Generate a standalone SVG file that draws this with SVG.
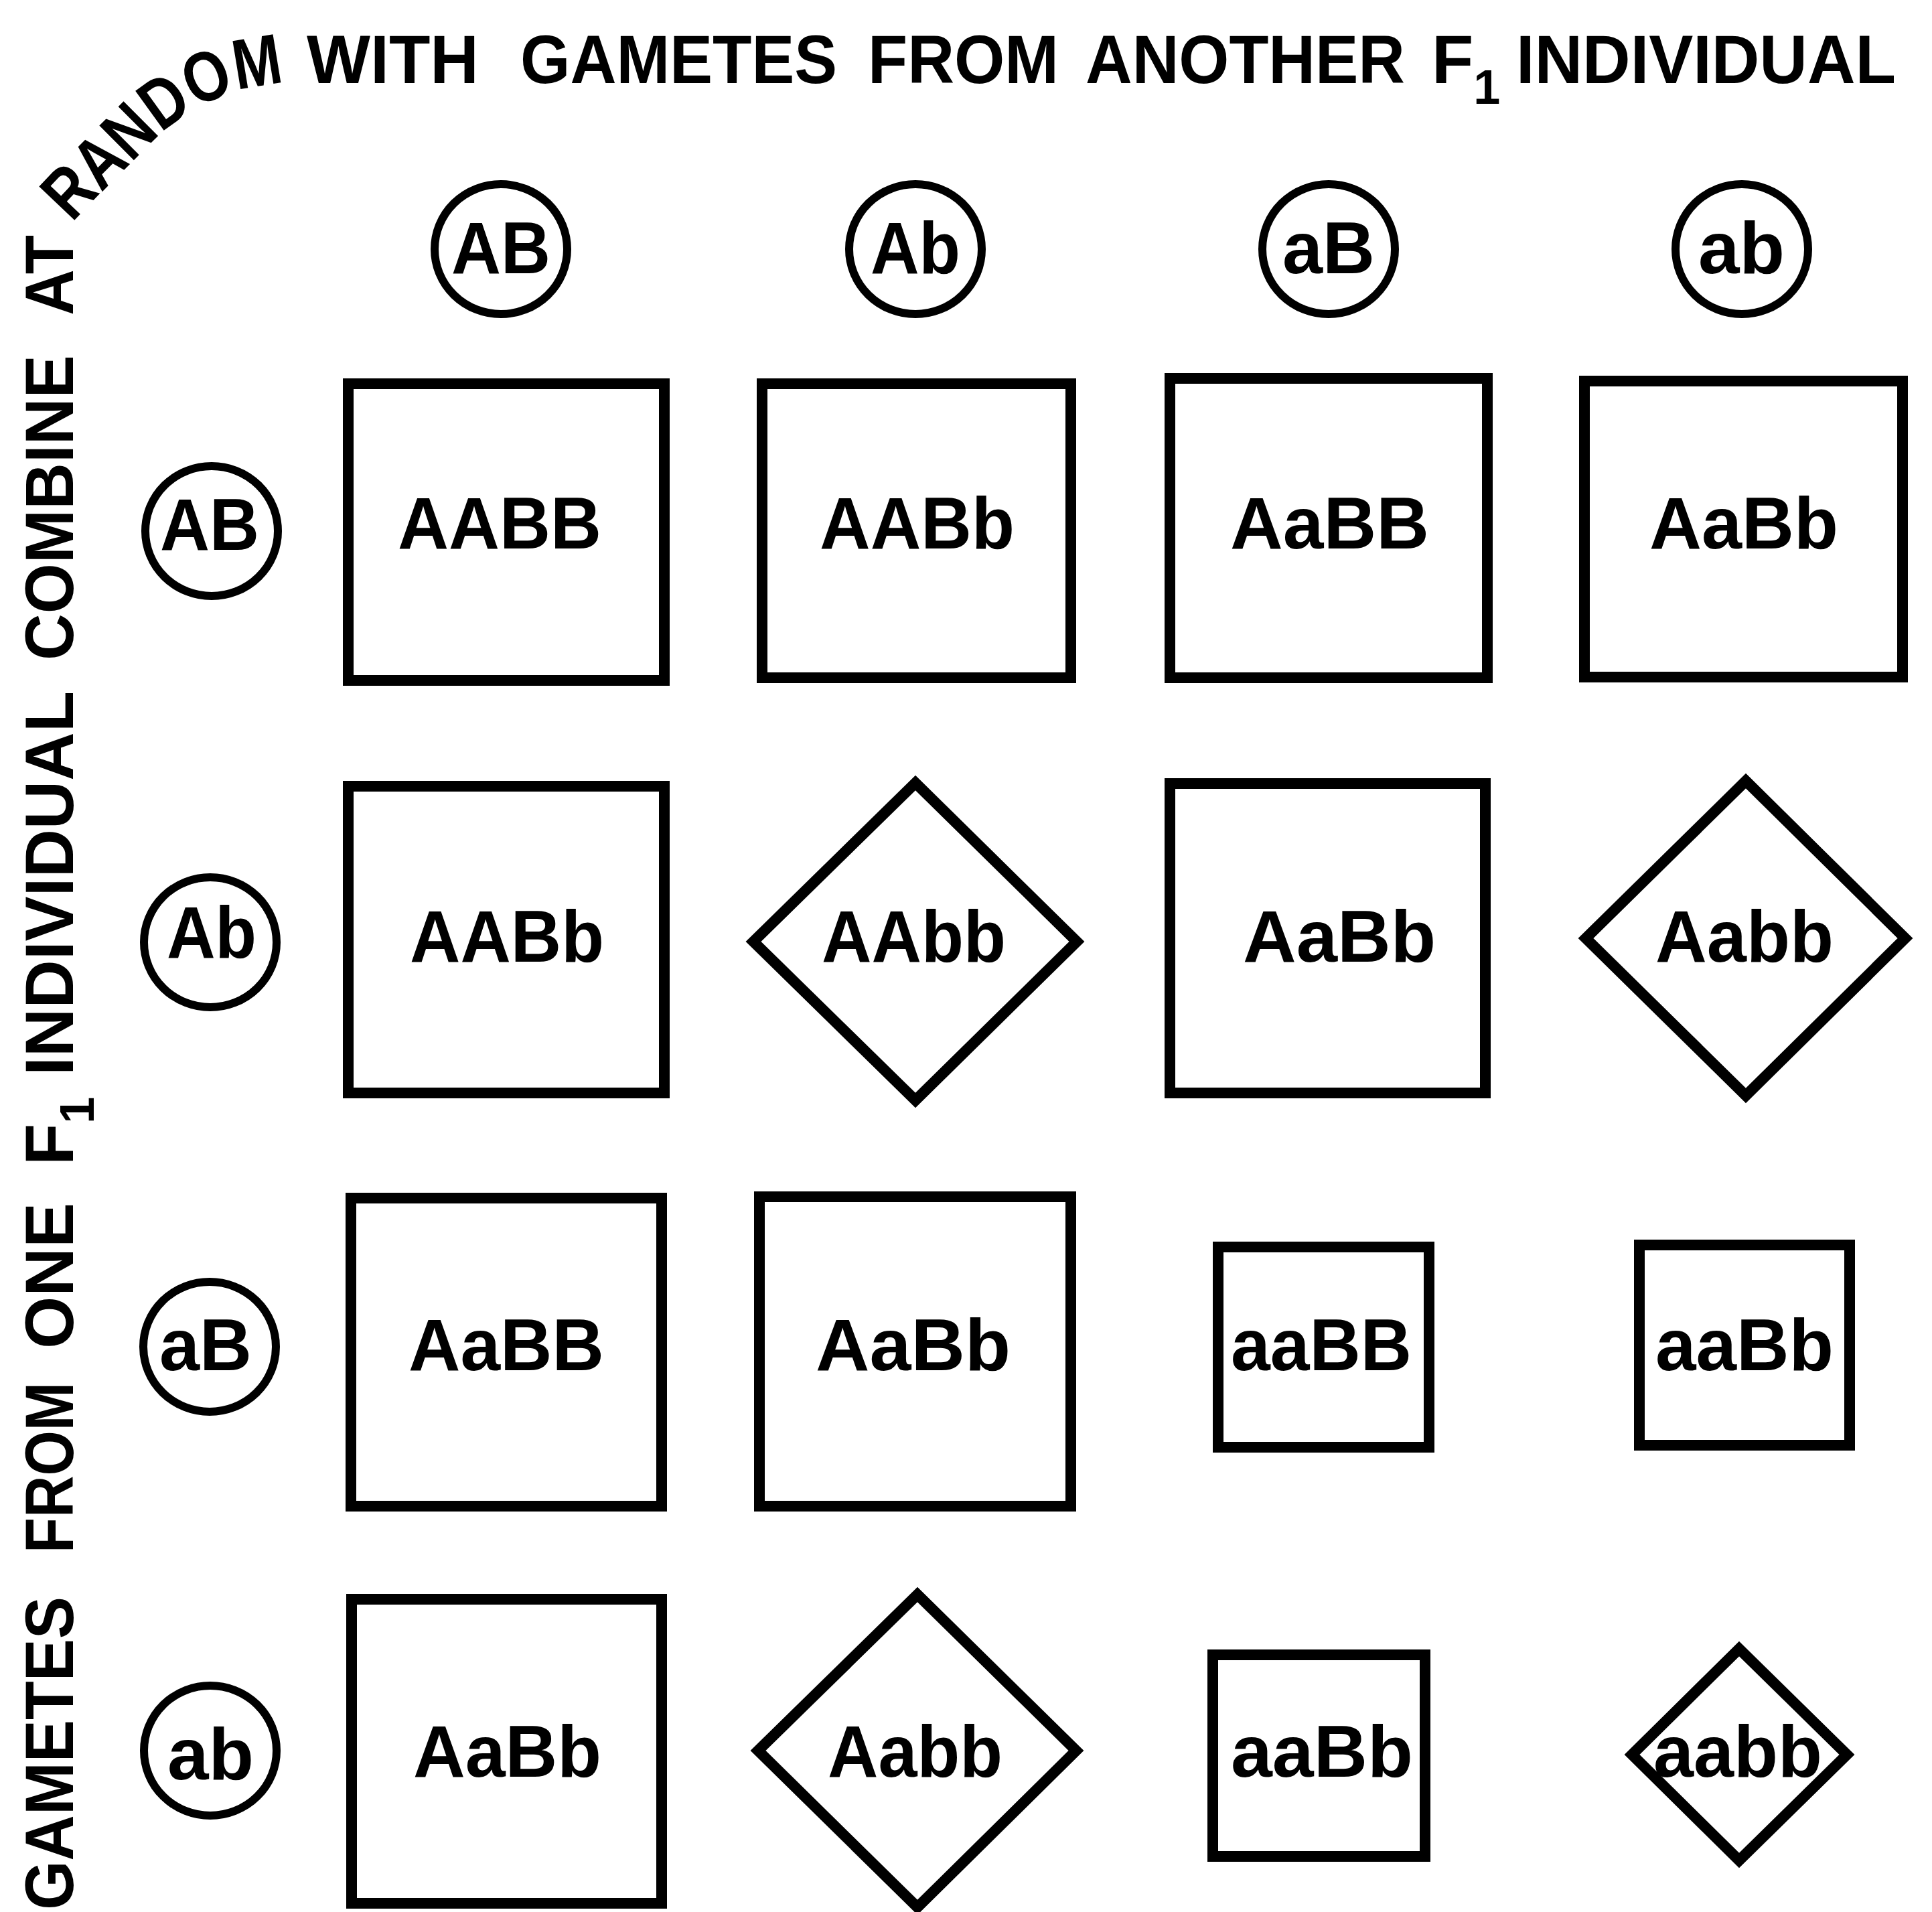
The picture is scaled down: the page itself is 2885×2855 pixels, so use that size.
<svg xmlns="http://www.w3.org/2000/svg" width="2885" height="2855" viewBox="0 0 2885 2855">
<style>
.bg{fill:#ffffff}
.box{fill:none;stroke:#000;stroke-width:16;stroke-linejoin:miter}
.dia{fill:none;stroke:#000;stroke-width:16;stroke-linejoin:miter}
.gam{fill:none;stroke:#000;stroke-width:12}
.lbl{font-family:"Liberation Sans",Arial,sans-serif;font-weight:bold;font-size:110px;fill:#000}
.ttl{font-family:"Liberation Sans",Arial,sans-serif;font-weight:bold;font-size:102px;fill:#000}
.arc{font-family:"Liberation Sans",Arial,sans-serif;font-weight:bold;font-size:106px;fill:#000}
.sub{font-size:72px}
</style>
<defs>
<path id="arcPath" d="M 109 352 Q 109 330 131 308 L 222 217 Q 315 124 440 124"/>
</defs>
<rect class="bg" x="0" y="0" width="2885" height="2855"/>

<g id="title">
  <text class="ttl" transform="translate(109,2852) rotate(-90)" textLength="468" lengthAdjust="spacingAndGlyphs">GAMETES</text>
  <text class="ttl" transform="translate(109,2319) rotate(-90)" textLength="255" lengthAdjust="spacingAndGlyphs">FROM</text>
  <text class="ttl" transform="translate(109,2014) rotate(-90)" textLength="218" lengthAdjust="spacingAndGlyphs">ONE</text>
  <text class="ttl" transform="translate(109,1740) rotate(-90)">F<tspan class="sub" dy="31">1</tspan></text>
  <text class="ttl" transform="translate(109,1606) rotate(-90)" textLength="574" lengthAdjust="spacingAndGlyphs">INDIVIDUAL</text>
  <text class="ttl" transform="translate(109,986) rotate(-90)" textLength="456" lengthAdjust="spacingAndGlyphs">COMBINE</text>
  <text class="ttl" transform="translate(109,471) rotate(-90)" textLength="120" lengthAdjust="spacingAndGlyphs">AT</text>
  <text class="arc" textLength="392" lengthAdjust="spacingAndGlyphs"><textPath href="#arcPath" startOffset="16">RANDOM</textPath></text>
  <text class="ttl" x="458" y="124" textLength="257" lengthAdjust="spacingAndGlyphs">WITH</text>
  <text class="ttl" x="777" y="124" textLength="473" lengthAdjust="spacingAndGlyphs">GAMETES</text>
  <text class="ttl" x="1296" y="124" textLength="285" lengthAdjust="spacingAndGlyphs">FROM</text>
  <text class="ttl" x="1621" y="124" textLength="477" lengthAdjust="spacingAndGlyphs">ANOTHER</text>
  <text class="ttl" x="2138" y="124">F<tspan class="sub" dy="31">1</tspan></text>
  <text class="ttl" x="2264" y="124" textLength="567" lengthAdjust="spacingAndGlyphs">INDIVIDUAL</text>
</g>

<g id="connectors"></g>

<g id="col-AB"><ellipse class="gam" cx="748" cy="372" rx="99" ry="97"/><text class="lbl" x="674" y="408" textLength="148" lengthAdjust="spacingAndGlyphs">AB</text></g>
<g id="col-Ab"><ellipse class="gam" cx="1367" cy="372" rx="99" ry="97"/><text class="lbl" x="1300" y="408" textLength="134" lengthAdjust="spacingAndGlyphs">Ab</text></g>
<g id="col-aB"><ellipse class="gam" cx="1984" cy="372" rx="99" ry="97"/><text class="lbl" x="1915" y="408" textLength="138" lengthAdjust="spacingAndGlyphs">aB</text></g>
<g id="col-ab"><ellipse class="gam" cx="2601" cy="372" rx="99" ry="97"/><text class="lbl" x="2536" y="408" textLength="129" lengthAdjust="spacingAndGlyphs">ab</text></g>

<g id="row-AB"><ellipse class="gam" cx="316" cy="793" rx="99" ry="97"/><text class="lbl" x="239" y="821" textLength="148" lengthAdjust="spacingAndGlyphs">AB</text></g>
<g id="row-Ab"><ellipse class="gam" cx="314" cy="1407" rx="99" ry="97"/><text class="lbl" x="249" y="1430" textLength="134" lengthAdjust="spacingAndGlyphs">Ab</text></g>
<g id="row-aB"><ellipse class="gam" cx="313" cy="2011" rx="99" ry="97"/><text class="lbl" x="238" y="2046" textLength="138" lengthAdjust="spacingAndGlyphs">aB</text></g>
<g id="row-ab"><ellipse class="gam" cx="314" cy="2614" rx="99" ry="97"/><text class="lbl" x="250" y="2657" textLength="129" lengthAdjust="spacingAndGlyphs">ab</text></g>

<g id="cell-r1c1"><rect class="box" x="520" y="573" width="472" height="443"/><text class="lbl" x="594" y="819" textLength="304" lengthAdjust="spacingAndGlyphs">AABB</text></g>
<g id="cell-r1c2"><rect class="box" x="1138" y="573" width="461" height="439"/><text class="lbl" x="1224" y="819" textLength="291" lengthAdjust="spacingAndGlyphs">AABb</text></g>
<g id="cell-r1c3"><rect class="box" x="1747" y="565" width="474" height="447"/><text class="lbl" x="1837" y="819" textLength="297" lengthAdjust="spacingAndGlyphs">AaBB</text></g>
<g id="cell-r1c4"><rect class="box" x="2366" y="569" width="475" height="442"/><text class="lbl" x="2463" y="819" textLength="282" lengthAdjust="spacingAndGlyphs">AaBb</text></g>

<g id="cell-r2c1"><rect class="box" x="520" y="1174" width="472" height="458"/><text class="lbl" x="612" y="1436" textLength="290" lengthAdjust="spacingAndGlyphs">AABb</text></g>
<g id="cell-r2c2"><polygon class="dia" points="1367,1169 1608,1406 1367,1643 1125,1406"/><text class="lbl" x="1227" y="1436" textLength="275" lengthAdjust="spacingAndGlyphs">AAbb</text></g>
<g id="cell-r2c3"><rect class="box" x="1747" y="1170" width="471" height="462"/><text class="lbl" x="1856" y="1436" textLength="288" lengthAdjust="spacingAndGlyphs">AaBb</text></g>
<g id="cell-r2c4"><polygon class="dia" points="2607,1166 2845,1401 2607,1636 2368,1401"/><text class="lbl" x="2472" y="1436" textLength="266" lengthAdjust="spacingAndGlyphs">Aabb</text></g>

<g id="cell-r3c1"><rect class="box" x="524" y="1789" width="464" height="460"/><text class="lbl" x="610" y="2046" textLength="292" lengthAdjust="spacingAndGlyphs">AaBB</text></g>
<g id="cell-r3c2"><rect class="box" x="1134" y="1787" width="465" height="462"/><text class="lbl" x="1218" y="2046" textLength="291" lengthAdjust="spacingAndGlyphs">AaBb</text></g>
<g id="cell-r3c3"><rect class="box" x="1819" y="1862" width="315" height="299"/><text class="lbl" x="1838" y="2046" textLength="270" lengthAdjust="spacingAndGlyphs">aaBB</text></g>
<g id="cell-r3c4"><rect class="box" x="2448" y="1859" width="314" height="299"/><text class="lbl" x="2472" y="2046" textLength="266" lengthAdjust="spacingAndGlyphs">aaBb</text></g>

<g id="cell-r4c1"><rect class="box" x="525" y="2388" width="463" height="454"/><text class="lbl" x="617" y="2653" textLength="281" lengthAdjust="spacingAndGlyphs">AaBb</text></g>
<g id="cell-r4c2"><polygon class="dia" points="1370,2381 1607,2614 1370,2848 1132,2614"/><text class="lbl" x="1236" y="2653" textLength="261" lengthAdjust="spacingAndGlyphs">Aabb</text></g>
<g id="cell-r4c3"><rect class="box" x="1811" y="2471" width="317" height="301"/><text class="lbl" x="1838" y="2653" textLength="272" lengthAdjust="spacingAndGlyphs">aaBb</text></g>
<g id="cell-r4c4"><polygon class="dia" points="2597,2462 2758,2620 2597,2778 2437,2620"/><text class="lbl" x="2469" y="2653" textLength="252" lengthAdjust="spacingAndGlyphs">aabb</text></g>
</svg>
